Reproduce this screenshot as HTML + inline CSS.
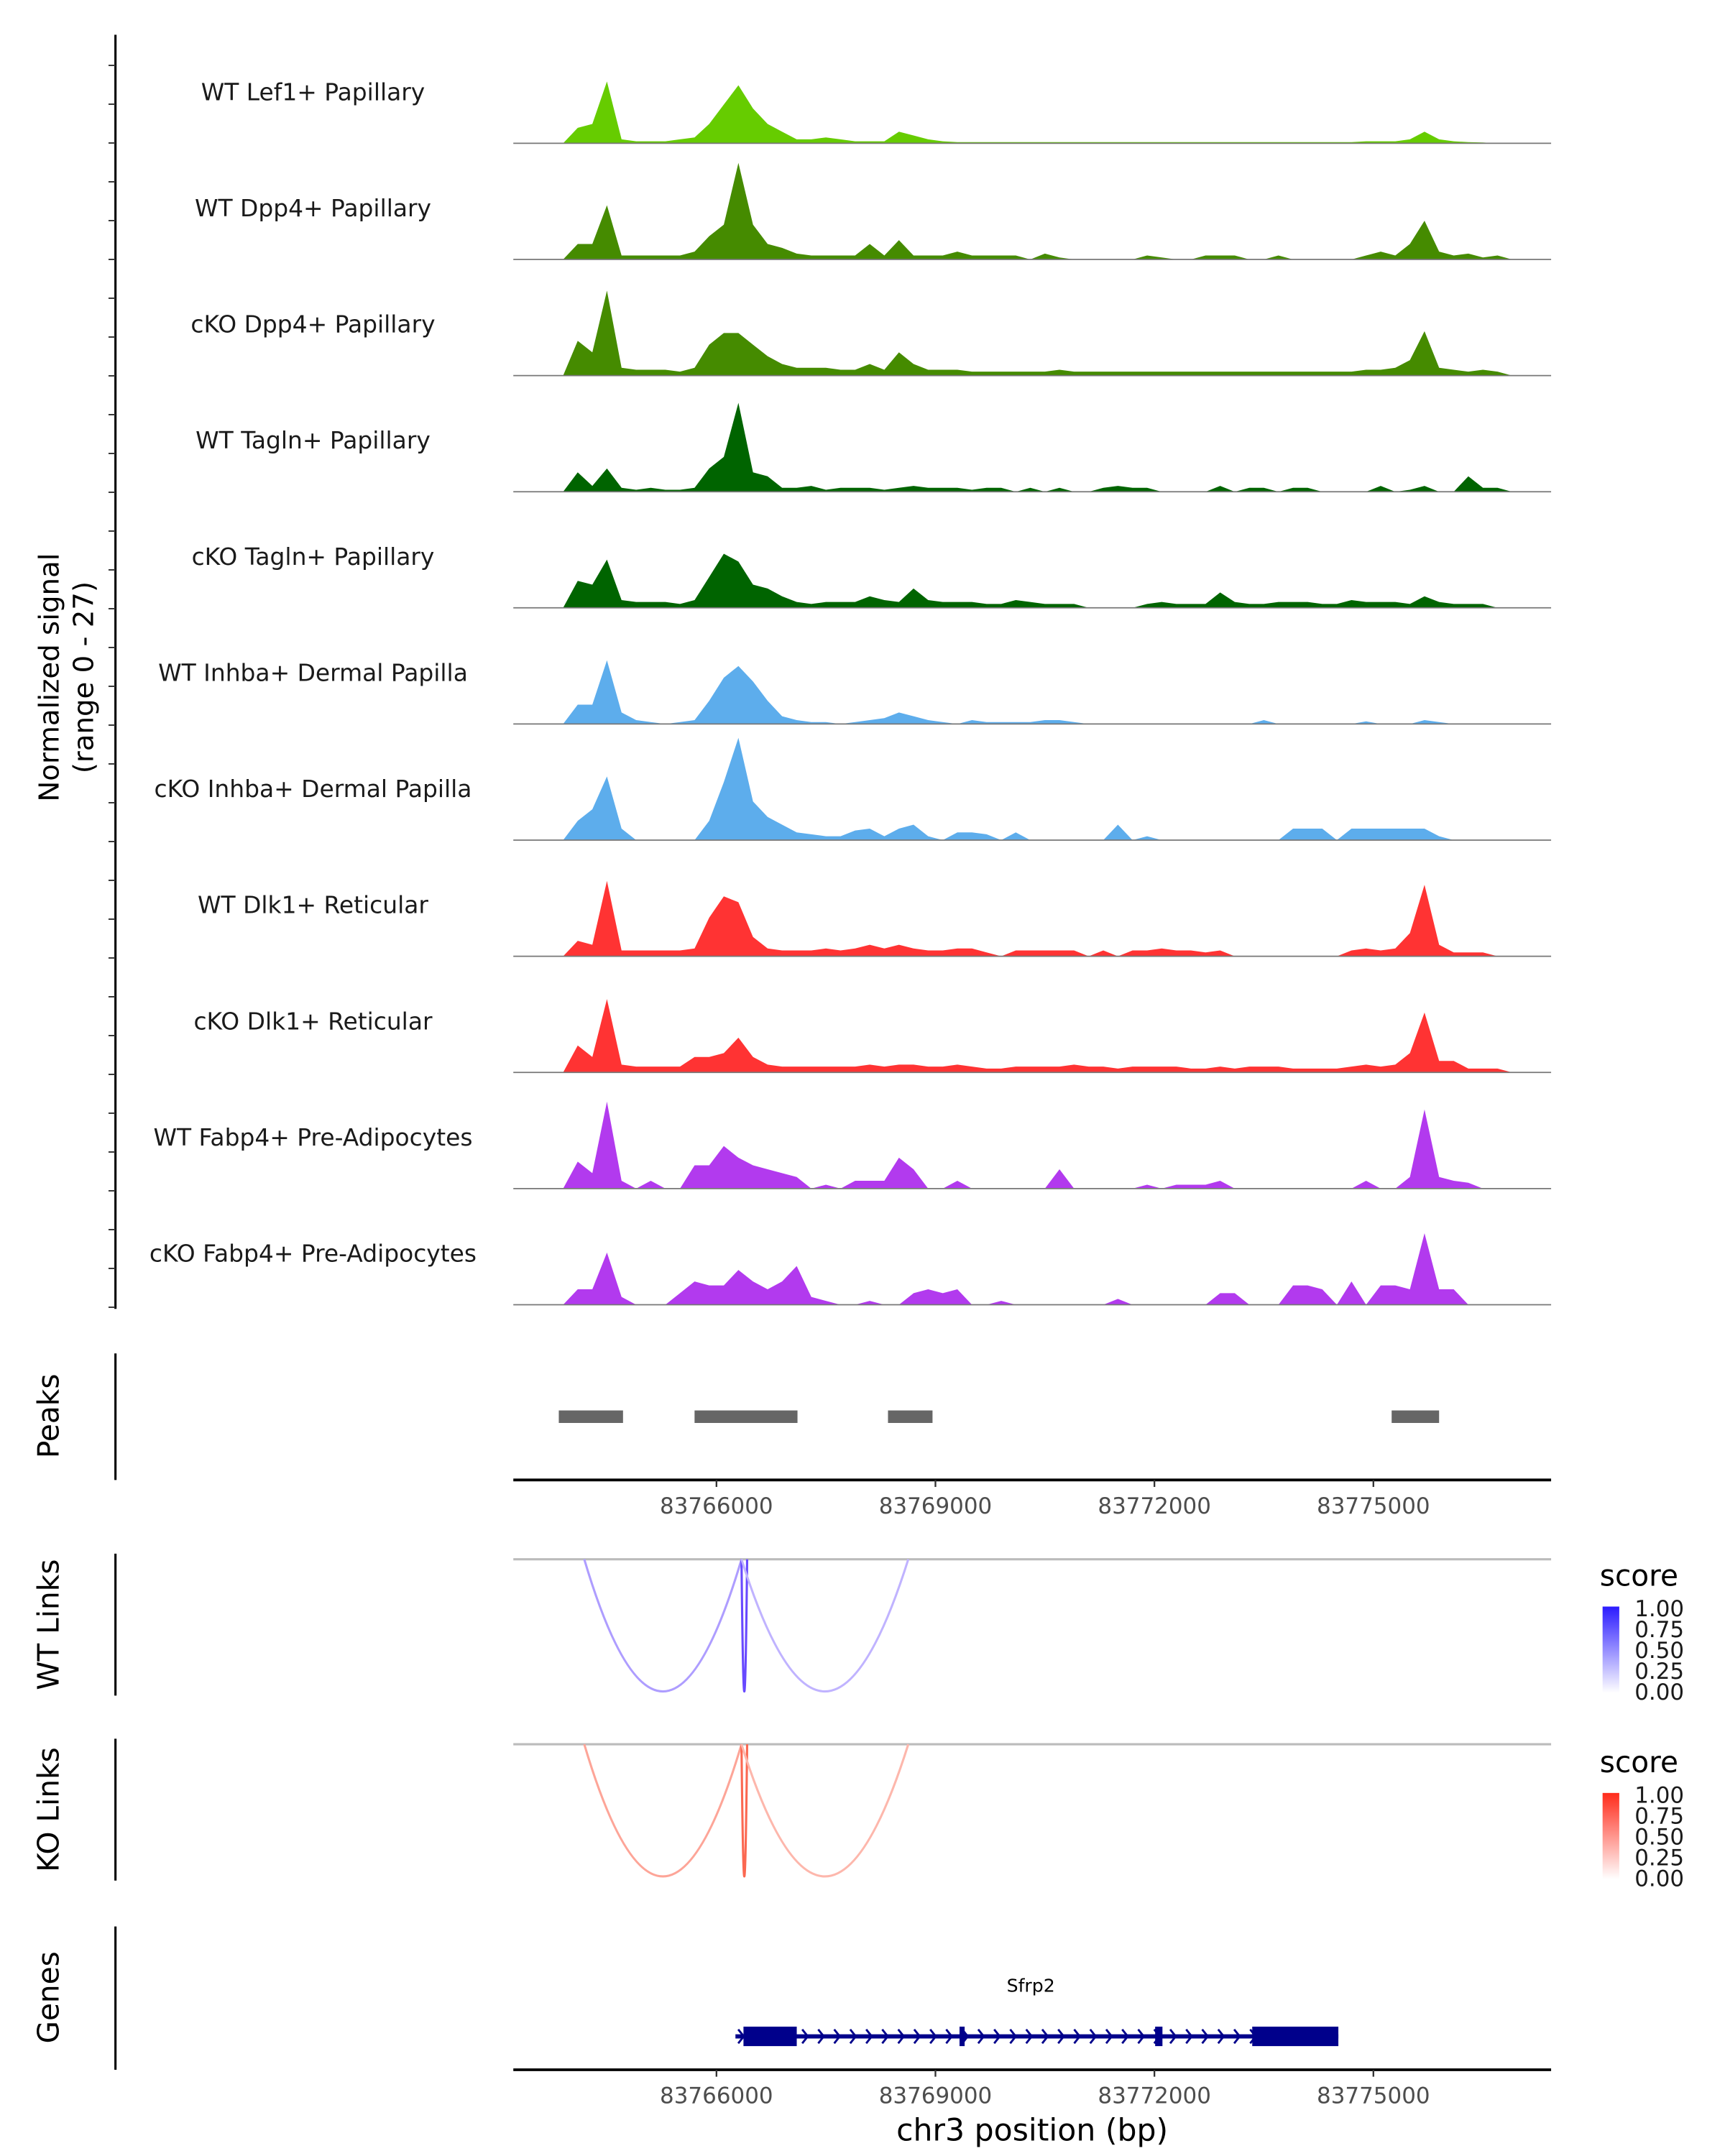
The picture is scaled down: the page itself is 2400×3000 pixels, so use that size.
<!DOCTYPE html>
<html><head><meta charset="utf-8">
<style>
html,body{margin:0;padding:0;background:#fff;}
svg{display:block;font-family:"DejaVu Sans","Liberation Sans",sans-serif;}
</style></head>
<body>
<svg id="chart" width="2400" height="3000" viewBox="0 0 1240 1550" xmlns="http://www.w3.org/2000/svg">
<g id="g"></g>
</svg>
<script>
const NS="http://www.w3.org/2000/svg";
const trackNames=["WT Lef1+ Papillary","WT Dpp4+ Papillary","cKO Dpp4+ Papillary","WT Tagln+ Papillary","cKO Tagln+ Papillary","WT Inhba+ Dermal Papilla","cKO Inhba+ Dermal Papilla","WT Dlk1+ Reticular","cKO Dlk1+ Reticular","WT Fabp4+ Pre-Adipocytes","cKO Fabp4+ Pre-Adipocytes"];
const trackColors=["#66CC00","#458B00","#458B00","#006400","#006400","#5DADEC","#5DADEC","#FF3333","#FF3333","#B23AEE","#B23AEE"];
const binStart=83763800, binSize=200;
const t1=[0,4,5,16,1,0.5,0.5,0.5,1,1.5,5,10,15,9,5,3,1,1,1.5,1,0.5,0.5,0.5,3,2,1,0.5,0.3,0.3,0.3,0.3,0.3,0.3,0.3,0.3,0.3,0.3,0.3,0.3,0.3,0.3,0.3,0.3,0.3,0.3,0.3,0.3,0.3,0.3,0.3,0.3,0.3,0.3,0.3,0.3,0.5,0.5,0.5,1,3,1,0.5,0.3,0.2,0,0];
const t2=[0,4,4,14,1,1,1,1,1,2,6,9,25,9,4,3,1.5,1,1,1,1,4,1,5,1,1,1,2,1,1,1,1,0,1.5,0.5,0,0,0,0,0,1,0.5,0,0,1,1,1,0,0,1,0,0,0,0,0,1,2,1,4,10,2,1,1.5,0.5,1,0];
const t3=[0,9,6,22,2,1.5,1.5,1.5,1,2,8,11,11,8,5,3,2,2,2,1.5,1.5,3,1.5,6,3,1.5,1.5,1.5,1,1,1,1,1,1,1.5,1,1,1,1,1,1,1,1,1,1,1,1,1,1,1,1,1,1,1,1,1.5,1.5,2,4,11.5,2,1.5,1,1.5,1,0];
const t4=[0,5,1.5,6,1,0.5,1,0.5,0.5,1,6,9,23,5,4,1,1,1.5,0.5,1,1,1,0.5,1,1.5,1,1,1,0.5,1,1,0,1,0,1,0,0,1,1.5,1,1,0,0,0,0,1.5,0,1,1,0,1,1,0,0,0,0,1.5,0,0.5,1.5,0,0,4,1,1,0];
const t5=[0,7,6,12.5,2,1.5,1.5,1.5,1,2,8,14,12,6,5,3,1.5,1,1.5,1.5,1.5,3,2,1.5,5,2,1.5,1.5,1.5,1,1,2,1.5,1,1,1,0,0,0,0,1,1.5,1,1,1,4,1.5,1,1,1.5,1.5,1.5,1,1,2,1.5,1.5,1.5,1,3,1.5,1,1,1,0,0];
const t6=[0,5,5,16.5,3,1,0.5,0,0.5,1,6,12,15,11,6,2,1,0.5,0.5,0,0.5,1,1.5,3,2,1,0.5,0,1,0.5,0.5,0.5,0.5,1,1,0.5,0,0,0,0,0,0,0,0,0,0,0,0,1,0,0,0,0,0,0,0.7,0,0,0,1,0.5,0,0,0,0,0];
const t7=[0,5,8,16.5,3,0,0,0,0,0,5,15,26.5,10,6,4,2,1.5,1,1,2.5,3,1,3,4,1,0,2,2,1.5,0,2,0,0,0,0,0,0,4,0,1,0,0,0,0,0,0,0,0,0,3,3,3,0,3,3,3,3,3,3,1,0,0,0,0,0];
const t8=[0,4,3,19.5,1.5,1.5,1.5,1.5,1.5,2,10,15.5,14,5,2,1.5,1.5,1.5,2,1.5,2,3,2,3,2,1.5,1.5,2,2,1,0,1.5,1.5,1.5,1.5,1.5,0,1.5,0,1.5,1.5,2,1.5,1.5,1,1.5,0,0,0,0,0,0,0,0,1.5,2,1.5,2,6,18.5,3,1,1,1,0,0];
const t9=[0,7,4,19,2,1.5,1.5,1.5,1.5,4,4,5,9,4,2,1.5,1.5,1.5,1.5,1.5,1.5,2,1.5,2,2,1.5,1.5,2,1.5,1,1,1.5,1.5,1.5,1.5,2,1.5,1.5,1,1.5,1.5,1.5,1.5,1,1,1.5,1,1.5,1.5,1.5,1,1,1,1,1.5,2,1.5,2,5,15.5,3,3,1,1,1,0];
const t10=[0,7,4,22.5,2,0,2,0,0,6,6,11,8,6,5,4,3,0,1,0,2,2,2,8,5,0,0,2,0,0,0,0,0,0,5,0,0,0,0,0,1,0,1,1,1,2,0,0,0,0,0,0,0,0,0,2,0,0,3,20.5,3,2,1.5,0,0,0];
const t11=[0,4,4,13.5,2,0,0,0,3,6,5,5,9,6,4,6,10,2,1,0,0,1,0,0,3,4,3,4,0,0,1,0,0,0,0,0,0,0,1.5,0,0,0,0,0,0,3,3,0,0,0,5,5,4,0,6,0,5,5,4,18.5,4,4,0,0,0,0];
const trackValues=[t1,t2,t3,t4,t5,t6,t7,t8,t9,t10,t11];
const maxSignal=27;
const peakStarts=[83763840,83765700,83768350,83775250];
const peakEnds=[83764720,83767110,83768960,83775900];
const axisTicks=[83766000,83769000,83772000,83775000];
const linkStarts=[83764189,83766343,83766343];
const linkEnds=[83766343,83766420,83768628];
const wtScores=[0.35,0.75,0.25];
const koScores=[0.4,0.75,0.3];
const exonStarts=[83766370,83769330,83772010,83773340];
const exonEnds=[83767100,83769400,83772110,83774520];
const geneStart=83766260, geneEnd=83774520;
const legendTicks=["1.00","0.75","0.50","0.25","0.00"];

const X0=369,X1=1115,BP0=83763217,PXBP=0.05247;
const xs=bp=>X0+(bp-BP0)*PXBP;
const g=document.getElementById('g');
function el(tag,attrs,parent){const e=document.createElementNS(NS,tag);for(const k in attrs)e.setAttribute(k,attrs[k]);(parent||g).appendChild(e);return e;}
function txt(s,attrs){const t=el('text',attrs);t.textContent=s;return t;}

// left signal axis
let a=el('line',{x1:83,y1:25,x2:83,y2:941,stroke:'#000','stroke-width':1.6});

for(let y=47;y<940;y+=27.9){const t=el('line',{x1:78,y1:y,x2:83,y2:y,stroke:'#333','stroke-width':1});}
let yt=txt('Normalized signal',{x:0,y:0,'font-size':20,'text-anchor':'middle',transform:'translate(42,487) rotate(-90)'});

yt=txt('(range 0 - 27)',{x:0,y:0,'font-size':20,'text-anchor':'middle',transform:'translate(67,487) rotate(-90)'});


const TH=83.5, B0=103, HMAX=75;
trackValues.forEach((vals,k)=>{
  const base=B0+k*TH;
  let pts=[[xs(binStart),base]];
  vals.forEach((v,i)=>{pts.push([xs(binStart+binSize*i+binSize/2),base-v/maxSignal*HMAX]);});
  pts.push([xs(binStart+binSize*vals.length),base]);
  const p=el('polygon',{points:pts.map(q=>q[0].toFixed(1)+','+q[1].toFixed(1)).join(' '),fill:trackColors[k]});
  
  const l=el('line',{x1:X0,y1:base,x2:X1,y2:base,stroke:'#777','stroke-width':0.9});
  
  const t=txt(trackNames[k],{x:225,y:base-31,'font-size':17,'text-anchor':'middle',fill:'#1a1a1a'});
  
});

// peaks
a=el('line',{x1:83,y1:973,x2:83,y2:1064,stroke:'#000','stroke-width':1.6});

let lb=txt('Peaks',{x:0,y:0,'font-size':21,'text-anchor':'middle',transform:'translate(42,1018) rotate(-90)'});

peakStarts.forEach((s,i)=>{const r=el('rect',{x:xs(s),y:1014,width:xs(peakEnds[i])-xs(s),height:9,fill:'#666'});});

function xAxis(y,name){
  const l=el('line',{x1:X0,y1:y,x2:X1,y2:y,stroke:'#000','stroke-width':2});
  
  axisTicks.forEach(t=>{const x=xs(t);const tk=el('line',{x1:x,y1:y,x2:x,y2:y+5,stroke:'#333','stroke-width':1.2});
    const tl=txt(String(t),{x:x,y:y+24,'font-size':16,'text-anchor':'middle',fill:'#4d4d4d'});});
}
xAxis(1064,'peaks-x-axis');

function links(top,scores,hue,label,legendTop,grad){
  const ax=el('line',{x1:83,y1:top-4,x2:83,y2:top+98,stroke:'#000','stroke-width':1.6});
  
  const t=txt(label,{x:0,y:0,'font-size':21,'text-anchor':'middle',transform:'translate(42,'+(top+47)+') rotate(-90)'});
  
  const bl=el('line',{x1:X0,y1:top,x2:X1,y2:top,stroke:'#bbb','stroke-width':1.6});
  
  linkStarts.forEach((s,i)=>{
    const x1=xs(s),x2=xs(linkEnds[i]),d=95;
    const sc=scores[i];
    const col=hue(sc);
    const p=el('path',{d:`M${x1},${top} Q${(x1+x2)/2},${top+2*d} ${x2},${top}`,fill:'none',stroke:col,'stroke-width':1.6});
    
  });
  const st=txt('score',{x:1150,y:legendTop,'font-size':21});
  
  const cb=el('rect',{x:1152,y:legendTop+15,width:12,height:62,fill:'url(#'+grad+')'});
  
  legendTicks.forEach((s,i)=>{const y=legendTop+16+i*15;const tl=txt(s,{x:1175,y:y+6,'font-size':16,fill:'#1a1a1a'});});
}
const defs=el('defs',{});
function mkGrad(id,c){const lg=el('linearGradient',{id:id,x1:0,y1:0,x2:0,y2:1},defs);el('stop',{offset:0,'stop-color':c},lg);el('stop',{offset:1,'stop-color':'#fff'},lg);}
mkGrad('gb','#2b1bff');mkGrad('gr','#ff2b1b');
function mix(c,s){return 'rgb('+c.map(v=>Math.round(255+(v-255)*s)).join(',')+')';}
links(1121,wtScores,s=>mix([60,20,255],Math.min(1,s*0.9+0.1)),'WT Links',1140,'gb');
links(1254,koScores,s=>mix([250,60,30],Math.min(1,s*0.9+0.1)),'KO Links',1274,'gr');

// genes
a=el('line',{x1:83,y1:1385,x2:83,y2:1488,stroke:'#000','stroke-width':1.6});

lb=txt('Genes',{x:0,y:0,'font-size':21,'text-anchor':'middle',transform:'translate(42,1436) rotate(-90)'});

const gn=txt('Sfrp2',{x:741,y:1432,'font-size':13,'text-anchor':'middle'});

const gl=el('line',{x1:xs(geneStart),y1:1464,x2:xs(geneEnd),y2:1464,stroke:'#00008B','stroke-width':3});

for(let x=xs(geneStart)+2;x<xs(geneEnd)-60;x+=11.5){const ar=el('path',{d:`M${x},${1459} L${x+4},${1464} L${x},${1469}`,fill:'none',stroke:'#00008B','stroke-width':1.5});}
exonStarts.forEach((s,i)=>{const r=el('rect',{x:xs(s),y:1457,width:Math.max(2,xs(exonEnds[i])-xs(s)),height:14,fill:'#00008B'});});
xAxis(1488,'genes-x-axis');
const xt=txt('chr3 position (bp)',{x:742,y:1539,'font-size':22,'text-anchor':'middle'});

</script>
</body></html>
